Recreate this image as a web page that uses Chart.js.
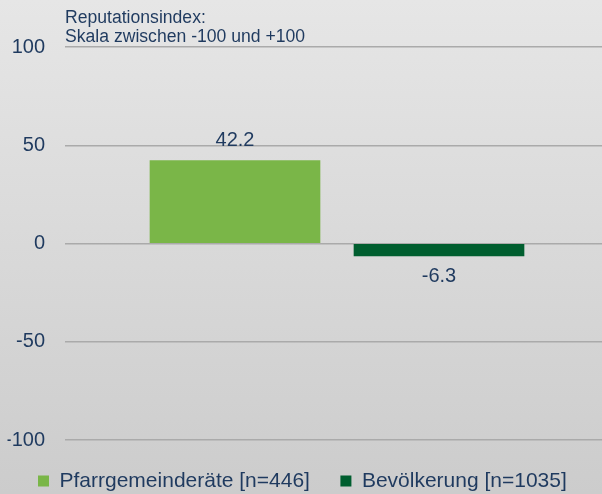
<!DOCTYPE html>
<html>
<head>
<meta charset="utf-8">
<script src="https://cdn.jsdelivr.net/npm/chart.js@4"></script>
<style>
  html, body { margin: 0; padding: 0; }
  #wrap {
    width: 602px; height: 494px; position: relative;
    background: linear-gradient(#e6e6e6, #cccccc);
  }
</style>
</head>
<body>
<div id="wrap"><canvas id="repChart"></canvas></div>
<script>
// data
const categories = ['Pfarrgemeinderäte [n=446]', 'Bevölkerung [n=1035]'];
const values = [42.2, -6.3];
const yTicks = [-100, -50, 0, 50, 100];
const titleLines = ['Reputationsindex:', 'Skala zwischen -100 und +100'];

const barColors = ['#7ab648', '#005e2f'];
const textColor = '#1f3a5f';
const fontFamily = "'Liberation Sans', Arial, sans-serif";

Chart.defaults.font.family = fontFamily;
Chart.defaults.color = textColor;

// title above the plot, left aligned with the grid
const titlePlugin = {
  id: 'titleLines',
  afterDraw(chart) {
    const c = chart.ctx;
    const area = chart.chartArea;
    c.save();
    c.font = '17.6px ' + fontFamily;
    c.fillStyle = textColor;
    c.textAlign = 'left';
    c.textBaseline = 'alphabetic';
    c.fillText(titleLines[0], area.left, area.top - 24.5);
    c.fillText(titleLines[1], area.left, area.top - 5.5);
    c.restore();
  }
};

// value labels above / below each bar
const valueLabels = {
  id: 'valueLabels',
  afterDatasetsDraw(chart) {
    const c = chart.ctx;
    c.save();
    c.font = '20px ' + fontFamily;
    c.fillStyle = textColor;
    c.textAlign = 'center';
    c.textBaseline = 'middle';
    chart.data.datasets.forEach((ds, i) => {
      chart.getDatasetMeta(i).data.forEach((bar, j) => {
        const v = ds.data[j].y;
        const y = v >= 0 ? bar.y - 20 : bar.y + 21;
        c.fillText(v.toFixed(1), bar.x, y);
      });
    });
    c.restore();
  }
};

const ctx = document.getElementById('repChart').getContext('2d');

const repChart = new Chart(ctx, {
  type: 'bar',
  data: {
    datasets: categories.map((name, i) => ({
      label: name,
      data: [{ x: i + 1, y: values[i] }],
      backgroundColor: barColors[i],
      borderWidth: 0,
      barThickness: 170,
      grouped: false
    }))
  },
  options: {
    responsive: true,
    maintainAspectRatio: false,
    animation: false,
    layout: {
      padding: { top: 47, left: 7.5, right: 0, bottom: 0 }
    },
    scales: {
      x: {
        type: 'linear',
        display: false,
        offset: false,
        min: 0.1667,
        max: 2.799
      },
      y: {
        min: -100,
        max: 100,
        afterFit: function(scale) { scale.width = 57.5; },
        afterBuildTicks: function(scale) {
          scale.ticks = yTicks.map(v => ({ value: v }));
        },
        grid: {
          color: '#aaaaaa',
          lineWidth: 1.5,
          drawTicks: false
        },
        border: { display: false },
        ticks: {
          padding: 20,
          color: textColor,
          font: { size: 20 }
        }
      }
    },
    plugins: {
      legend: {
        position: 'bottom',
        align: 'start',
        maxHeight: 54,
        labels: {
          boxWidth: 11,
          boxHeight: 11,
          padding: 30.5,
          color: textColor,
          font: { size: 21 }
        }
      },
      tooltip: { enabled: false }
    }
  },
  plugins: [titlePlugin, valueLabels]
});
</script>
</body>
</html>
